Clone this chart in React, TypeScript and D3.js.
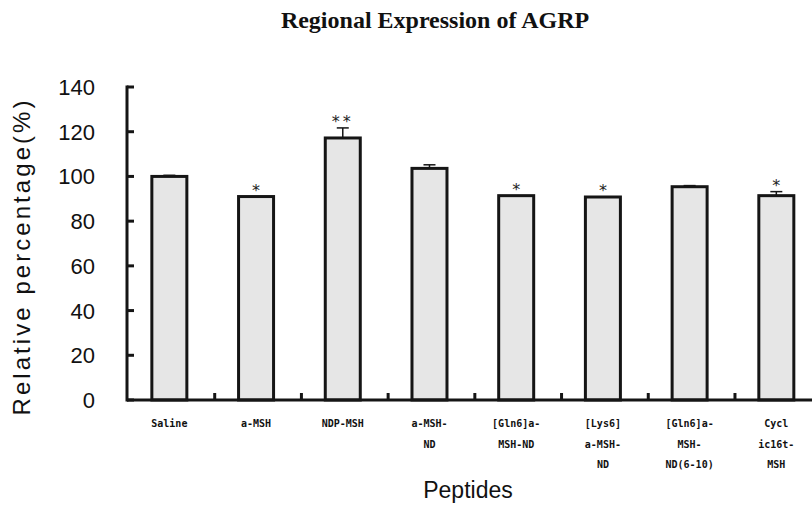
import React from "react";
import * as d3 from "d3";

// data
const categories = [
  "Saline",
  "a-MSH",
  "NDP-MSH",
  "a-MSH-ND",
  "[Gln6]a-MSH-ND",
  "[Lys6]a-MSH-ND",
  "[Gln6]a-MSH-ND(6-10)",
  "Cyclic16t-MSH",
];
const tickLines = [
  ["Saline"],
  ["a-MSH"],
  ["NDP-MSH"],
  ["a-MSH-", "ND"],
  ["[Gln6]a-", "MSH-ND"],
  ["[Lys6]", "a-MSH-", "ND"],
  ["[Gln6]a-", "MSH-", "ND(6-10)"],
  ["Cycl", "ic16t-", "MSH"],
];
const means = [100, 91, 117.2, 103.6, 91.4, 90.8, 95.4, 91.4];
const errors = [0.5, 0, 4.5, 1.6, 0, 0, 0.5, 1.8];
const stars = ["", "*", "**", "", "*", "*", "", "*"];
const yTicks = [0, 20, 40, 60, 80, 100, 120, 140];

const W = 812;
const H = 506;
const x0 = 127;
const baseY = 400;
const topY = 87;

export default function App() {
  const y = d3.scaleLinear().domain([0, 140]).range([baseY, topY]);
  const x = d3
    .scaleBand<string>()
    .domain(categories)
    .range([126, 126 + 8 * 86.71])
    .padding(0);
  const step = x.step();
  const barW = 35;

  return (
    <svg
      width={W}
      height={H}
      style={{ position: "absolute", left: 0, top: 0, background: "#fff" }}
    >
      <text
        x={435}
        y={28}
        textAnchor="middle"
        fontFamily="Liberation Serif, serif"
        fontWeight="bold"
        fontSize={24}
        fill="#111"
      >
        Regional Expression of AGRP
      </text>

      {/* bars */}
      {categories.map((c, i) => {
        const cx = (x(c) as number) + step / 2;
        const top = y(means[i]);
        const errTop = y(means[i] + errors[i]);
        return (
          <g key={c}>
            <rect
              x={cx - barW / 2}
              y={top}
              width={barW}
              height={baseY - top}
              fill="#e6e6e6"
              stroke="#151515"
              strokeWidth={3}
            />
            {errors[i] > 0 && (
              <g stroke="#151515" strokeWidth={1.5}>
                <line x1={cx} x2={cx} y1={top} y2={errTop} />
                <line x1={cx - 6} x2={cx + 6} y1={errTop} y2={errTop} />
              </g>
            )}
            {stars[i] && (
              <text
                x={cx}
                y={errTop - 1}
                textAnchor="middle"
                fontFamily="DejaVu Sans, sans-serif"
                fontSize={16}
                fill="#222"
                letterSpacing={stars[i].length > 1 ? 3 : 0}
              >
                {stars[i]}
              </text>
            )}
            {tickLines[i].map((t, k) => (
              <text
                key={k}
                x={cx}
                y={427 + k * 20.5}
                textAnchor="middle"
                fontFamily="DejaVu Sans Mono, monospace"
                fontWeight="bold"
                fontSize={10}
                fill="#111"
              >
                {t}
              </text>
            ))}
          </g>
        );
      })}

      {/* axes */}
      <g stroke="#151515" strokeWidth={3}>
        <line x1={x0} x2={x0} y1={topY - 1.5} y2={baseY + 1.5} />
        {yTicks.map((t) => (
          <line key={t} x1={x0} x2={x0 + 7} y1={y(t)} y2={y(t)} />
        ))}
        <line x1={x0} x2={W} y1={baseY} y2={baseY} />
        {categories.slice(1).map((c) => (
          <line
            key={c}
            x1={(x(c) as number) + 2}
            x2={(x(c) as number) + 2}
            y1={baseY}
            y2={baseY - 7}
          />
        ))}
      </g>
      {yTicks.map((t) => (
        <text
          key={t}
          x={95}
          y={y(t) + 8}
          textAnchor="end"
          fontFamily="Liberation Sans, Arial, sans-serif"
          fontSize={22}
          fill="#111"
        >
          {t}
        </text>
      ))}

      <text
        transform={`translate(30,258) rotate(-90)`}
        textAnchor="middle"
        fontFamily="Liberation Sans, Arial, sans-serif"
        fontSize={24}
        textLength={315}
        lengthAdjust="spacing"
        fill="#111"
      >
        Relative percentage(%)
      </text>
      <text
        x={468}
        y={498}
        textAnchor="middle"
        fontFamily="Liberation Sans, Arial, sans-serif"
        fontSize={23}
        fill="#111"
      >
        Peptides
      </text>
    </svg>
  );
}
